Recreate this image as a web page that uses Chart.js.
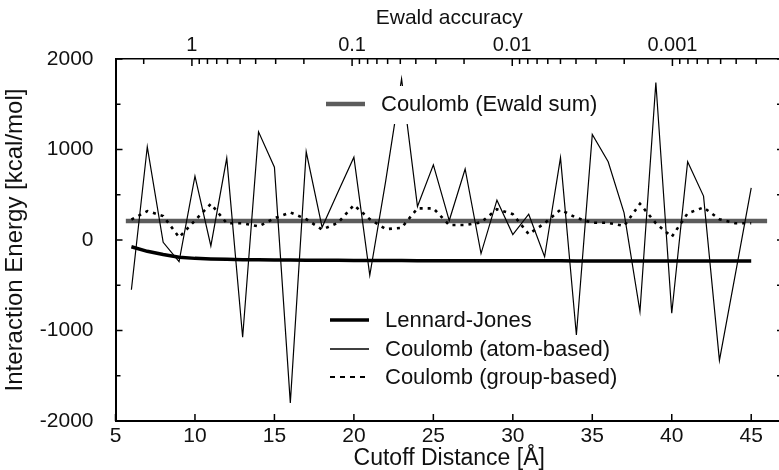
<!DOCTYPE html>
<html lang="en">
<head>
<meta charset="UTF-8">
<title>Interaction energy vs cutoff distance</title>
<script src="https://cdn.jsdelivr.net/npm/chart.js"></script>
<style>
  body { margin: 0; background: #fff; overflow: hidden; font-family: 'Liberation Sans', Arial, sans-serif; }
  #wrap { position: relative; width: 783px; height: 470px; }
  .legend { position: absolute; color: #111; font-size: 22px; }
  .legend .row { display: flex; align-items: center; height: 28.5px; white-space: nowrap; }
  .legend svg { margin-right: 16px; }
</style>
</head>
<body>
<div id="wrap">
  <canvas id="chart"></canvas>
  <div class="legend" id="legTop" style="left:326px; top:86px; height:38px; padding-top:4px; box-sizing:border-box; background:#fff;"></div>
  <div class="legend" id="legBottom" style="left:330px; top:306px;"></div>
</div>
<script>
// cutoff distance [Å]
const cutoff = [6, 7, 8, 9, 10, 11, 12, 13, 14, 15, 16, 17, 18, 19, 20, 21, 22, 23, 24, 25,
                26, 27, 28, 29, 30, 31, 32, 33, 34, 35, 36, 37, 38, 39, 40, 41, 42, 43, 44, 45];
// interaction energies [kcal/mol]
const ljEnergy = [-75, -125, -160, -190, -203, -210, -214, -217, -219, -221, -222, -223, -224, -225, -226, -226, -227, -227, -228, -228,
                  -228, -229, -229, -229, -230, -230, -230, -230, -231, -231, -231, -231, -231, -232, -232, -232, -232, -232, -232, -232];
const atomCoulomb = [-550, 1030, -25, -240, 705, -65, 905, -1075, 1195, 805, -1800, 975, 140, 530, 915, -390, 650, 1780, 370, 830,
                     215, 785, -150, 440, 60, 285, -185, 910, -1050, 1165, 865, 300, -790, 1740, -810, 865, 485, -1330, -380, 575];
const groupCoulomb = [225, 320, 265, 30, 215, 400, 185, 185, 150, 240, 305, 230, 115, 190, 385, 230, 120, 135, 350, 350,
                      165, 165, 195, 340, 285, 65, 185, 335, 245, 190, 190, 155, 400, 185, 35, 295, 360, 230, 185, 185];
const ewaldX = [5.65, 46];
const ewaldEnergy = [210, 210];

const seriesNames = ['Lennard-Jones', 'Coulomb (atom-based)', 'Coulomb (group-based)', 'Coulomb (Ewald sum)'];

// axis ticks
const xTicks = [5, 10, 15, 20, 25, 30, 35, 40, 45];
const yTicks = [-2000, -1000, 0, 1000, 2000];
const yMinorTicks = [-1500, -500, 500, 1500];
const accTicks = [1, 0.1, 0.01, 0.001];
const accLabels = ['1', '0.1', '0.01', '0.001'];

const toPts = (xs, ys) => xs.map((x, i) => ({ x: x, y: ys[i] }));

const styles = [
  { color: '#000', width: 3.5, dash: [] },
  { color: '#000', width: 1.2, dash: [] },
  { color: '#000', width: 2.6, dash: [3, 5] },
  { color: '#5c5c5c', width: 4.5, dash: [] }
];

const innerTicks = {
  id: 'innerTicks',
  afterDatasetsDraw(chart) {
    const { ctx, chartArea: a, scales } = chart;
    ctx.save();
    ctx.strokeStyle = '#000';
    ctx.lineWidth = 1.5;
    ctx.beginPath();
    xTicks.forEach(v => {
      const px = scales.x.getPixelForValue(v);
      ctx.moveTo(px, a.bottom); ctx.lineTo(px, a.bottom - 7);
    });
    yTicks.forEach(v => {
      const py = scales.y.getPixelForValue(v);
      ctx.moveTo(a.left, py); ctx.lineTo(a.left + 7, py);
      ctx.moveTo(a.right, py); ctx.lineTo(a.right - 6, py);
    });
    yMinorTicks.forEach(v => {
      const py = scales.y.getPixelForValue(v);
      ctx.moveTo(a.left, py); ctx.lineTo(a.left + 5, py);
      ctx.moveTo(a.right, py); ctx.lineTo(a.right - 6, py);
    });
    scales.x2.ticks.forEach(t => {
      const px = scales.x2.getPixelForValue(t.value);
      const len = t.major ? 7 : 5;
      ctx.moveTo(px, a.top); ctx.lineTo(px, a.top + len);
    });
    ctx.stroke();
    ctx.restore();
  }
};

const isDecade = v => Math.abs(Math.log10(v) - Math.round(Math.log10(v))) < 1e-9;

Chart.defaults.font.family = "'Liberation Sans', Arial, sans-serif";
Chart.defaults.color = '#111';

new Chart(document.getElementById('chart'), {
  type: 'scatter',
  data: {
    datasets: [
      { label: seriesNames[0], data: toPts(cutoff, ljEnergy) },
      { label: seriesNames[1], data: toPts(cutoff, atomCoulomb) },
      { label: seriesNames[2], data: toPts(cutoff, groupCoulomb) },
      { label: seriesNames[3], data: toPts(ewaldX, ewaldEnergy) }
    ].map((d, i) => Object.assign(d, {
      showLine: true,
      pointRadius: 0,
      borderColor: styles[i].color,
      borderWidth: styles[i].width,
      borderDash: styles[i].dash,
      tension: 0
    }))
  },
  options: {
    responsive: true,
    maintainAspectRatio: false,
    animation: false,
    layout: { padding: 0 },
    plugins: { legend: { display: false }, tooltip: { enabled: false } },
    scales: {
      x: {
        type: 'linear', position: 'bottom', min: 5, max: 47,
        grid: { display: false },
        border: { display: true, color: '#000', width: 2 },
        afterBuildTicks: s => { s.ticks = xTicks.map(v => ({ value: v })); },
        afterFit: s => { s.height = 49; },
        ticks: { font: { size: 21, lineHeight: 1 }, padding: -3, maxRotation: 0, callback: v => String(v) },
        title: { display: true, text: 'Cutoff Distance [Å]', font: { size: 23, lineHeight: 1 }, padding: { top: 0, bottom: 0 } }
      },
      y: {
        type: 'linear', position: 'left', min: -2000, max: 2000,
        grid: { display: false },
        border: { display: true, color: '#000', width: 2 },
        afterBuildTicks: s => { s.ticks = yTicks.map(v => ({ value: v })); },
        afterFit: s => { s.width = 115.5; },
        ticks: { font: { size: 21 }, padding: 14, callback: v => String(v) },
        title: { display: true, text: 'Interaction Energy [kcal/mol]', font: { size: 24 }, padding: { top: 1, bottom: 0 } }
      },
      x2: {
        type: 'logarithmic', axis: 'x', position: 'top', reverse: true,
        min: 2.04e-4, max: 3.0,
        grid: { display: false },
        border: { display: true, color: '#000', width: 1.5 },
        afterBuildTicks: s => {
          const t = [];
          for (let e = 0; e >= -4; e--) {
            for (let m = 1; m <= 9; m++) {
              const v = m * Math.pow(10, e);
              if (v > s.min && v < s.max) t.push({ value: v, major: m === 1 });
            }
          }
          s.ticks = t;
        },
        afterFit: s => { s.height = 59; },
        ticks: {
          font: { size: 20, lineHeight: 1 }, padding: -4, autoSkip: false, maxRotation: 0,
          callback: v => {
            if (!isDecade(v)) return '';
            const i = accTicks.findIndex(a => Math.abs(Math.log10(a) - Math.log10(v)) < 1e-6);
            return i >= 0 ? accLabels[i] : '';
          }
        },
        title: { display: true, text: 'Ewald accuracy', font: { size: 21 }, padding: { top: 6, bottom: 0 } }
      }
    }
  },
  plugins: [innerTicks]
});

// legends
function legendRow(i) {
  const s = styles[i];
  const dash = s.dash.length ? ` stroke-dasharray="5 5"` : '';
  const w = i === 2 ? 2.2 : (i === 1 ? 1.5 : s.width);
  return `<div class="row"><svg width="39" height="8"><line x1="0" y1="4" x2="39" y2="4" stroke="${s.color}" stroke-width="${w}"${dash}/></svg><span>${seriesNames[i]}</span></div>`;
}
document.getElementById('legTop').innerHTML = legendRow(3);
document.getElementById('legBottom').innerHTML = [0, 1, 2].map(legendRow).join('');
</script>
</body>
</html>
